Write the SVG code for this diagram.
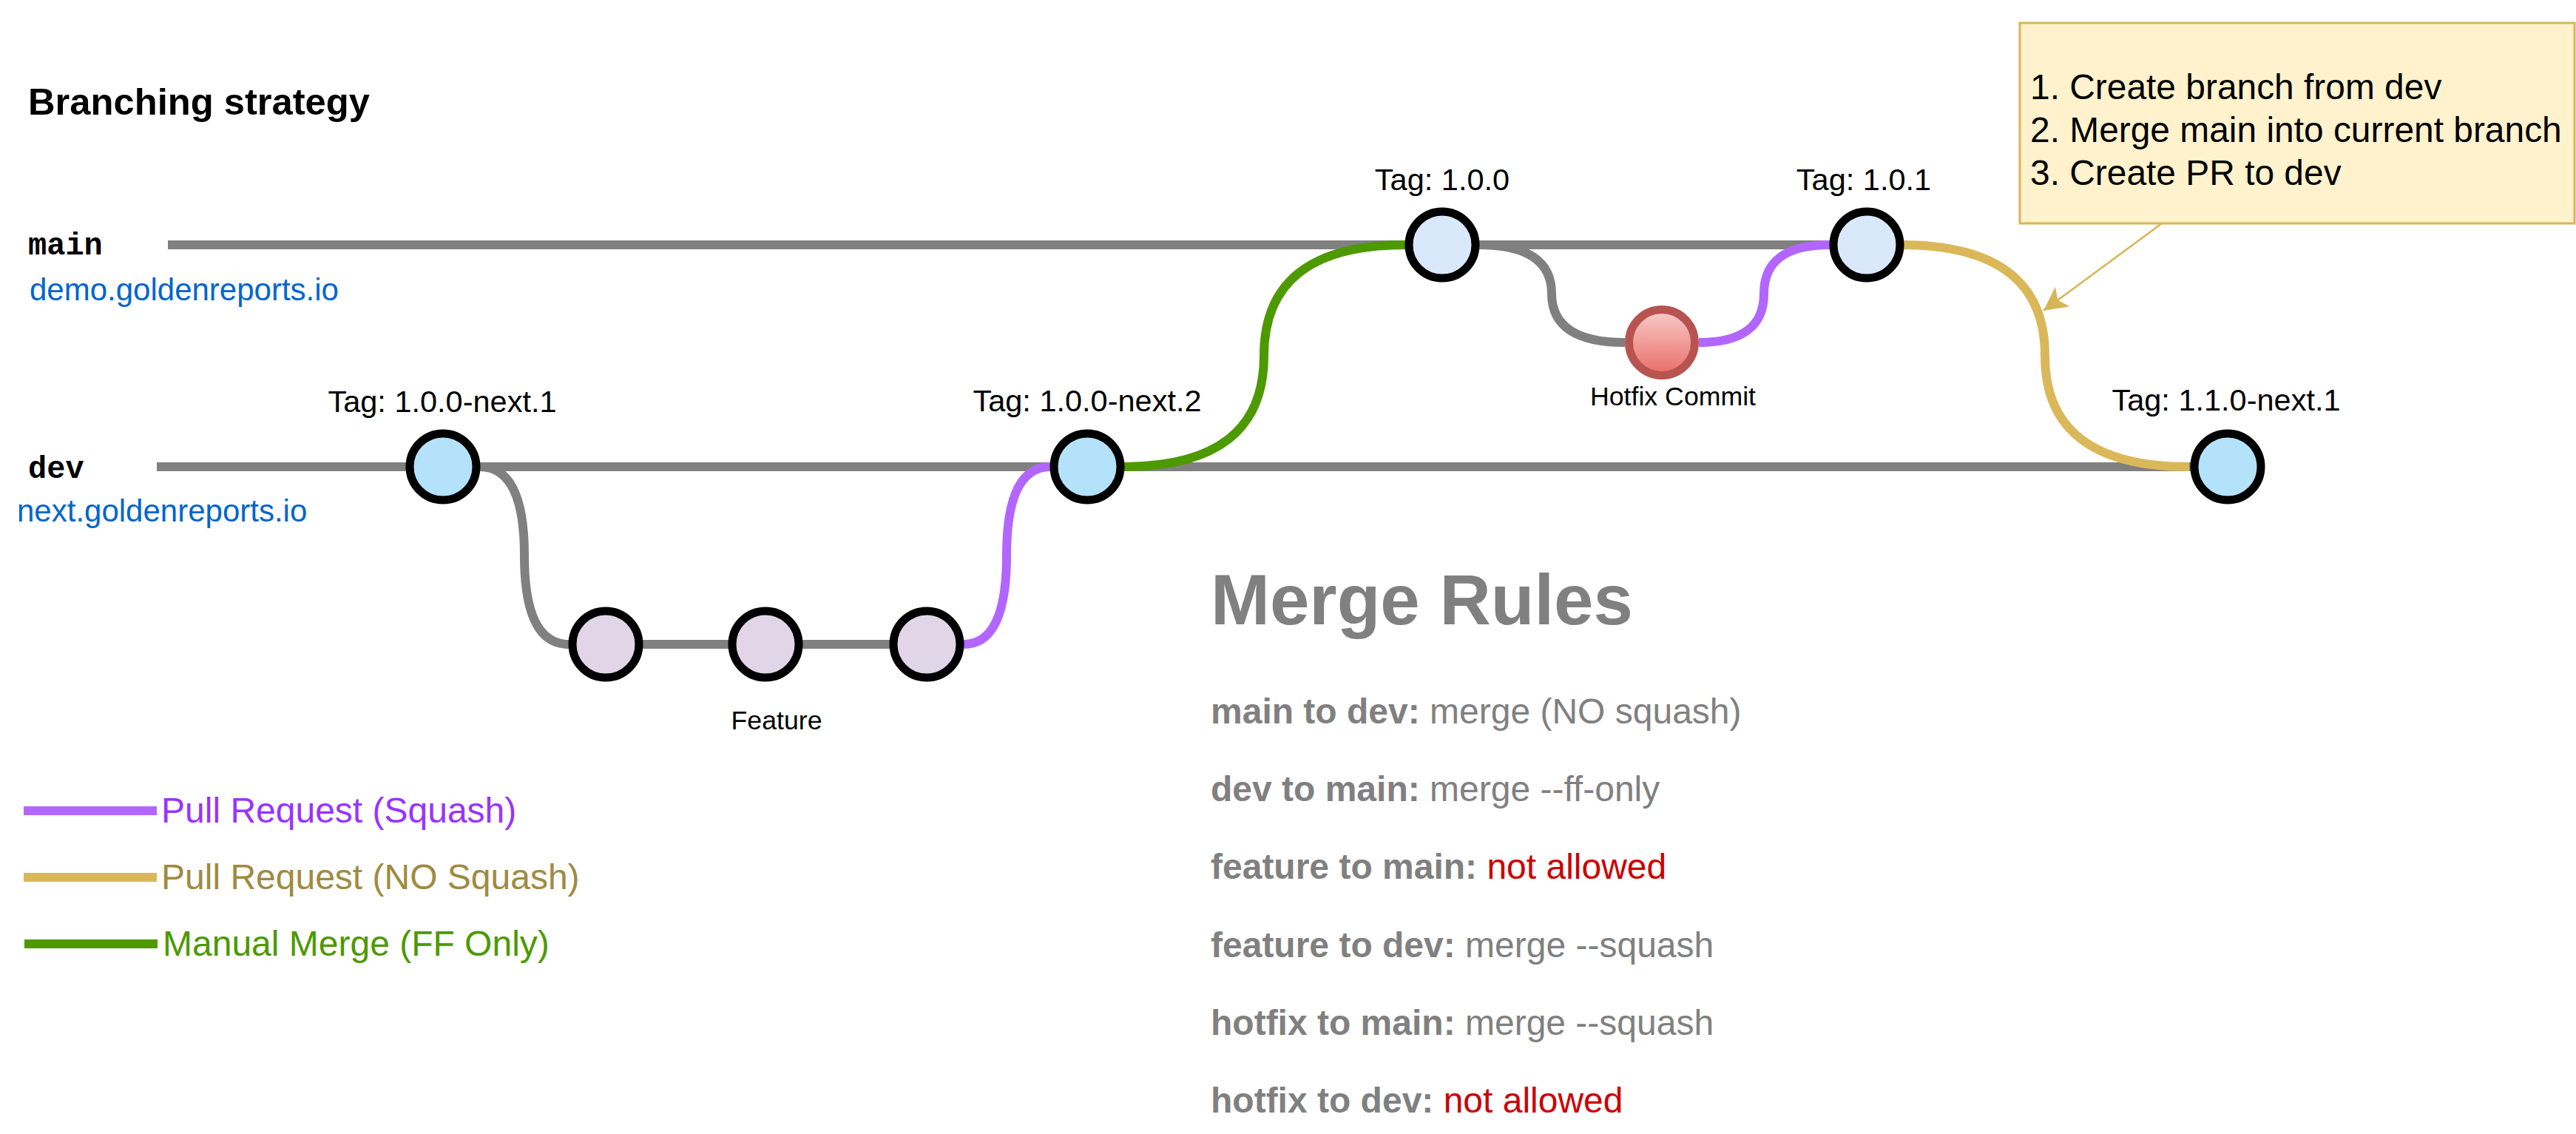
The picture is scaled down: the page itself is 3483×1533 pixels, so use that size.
<svg xmlns="http://www.w3.org/2000/svg" width="3483" height="1533" viewBox="0 0 3483 1533">
<defs>
<style>
.t{font-family:"Liberation Sans",Arial,sans-serif}
.mono{font-family:"Liberation Mono","Courier New",monospace;font-weight:bold;font-size:42px;fill:#000}
.edge{fill:none;stroke-width:12}
.gray{stroke:#808080}
.purple{stroke:#b266ff}
.gold{stroke:#dab85a}
.green{stroke:#4d9900}
.commit{stroke:#000;stroke-width:11}
.dev{fill:#b4e2fb}
.main{fill:#dae8fc}
.feat{fill:#e1d5e7}
.tag{font-size:41.5px;text-anchor:middle;fill:#000}
.lbl{font-size:35.7px;text-anchor:middle;fill:#000}
.url{font-size:42px;fill:#0066cc}
.rule{font-size:48px;fill:#808080}
.leg{font-size:48px}
.b{font-weight:bold}
.red{fill:#cc0000}
</style>
<linearGradient id="hotfixGrad" x1="0" y1="0" x2="0" y2="1">
<stop offset="0" stop-color="#f8cecc"/>
<stop offset="1" stop-color="#ea6b66"/>
</linearGradient>
<marker id="arrow" markerUnits="userSpaceOnUse" markerWidth="40" markerHeight="40" refX="32" refY="0" orient="auto" overflow="visible">
<path d="M0,-16.5 L32,0 L0,16.5 L8,0 Z" fill="#d6b656"/>
</marker>
</defs>
<rect width="3483" height="1533" fill="#ffffff"/>

<text id="title" class="t b" x="38" y="155" font-size="50.7" fill="#000">Branching strategy</text>

<g id="branch-labels">
<text class="mono" x="38" y="344">main</text>
<text class="t url" x="40" y="406">demo.goldenreports.io</text>
<text class="mono" x="38" y="646">dev</text>
<text class="t url" x="23" y="705">next.goldenreports.io</text>
</g>

<g id="connectors">
<path class="edge gray" d="M227,331 L2520,331"/>
<path class="edge gray" d="M212,631 L3010,631"/>
<path class="edge gray" d="M649,631 Q709,631 709,751 Q709,871 769,871"/>
<path class="edge gray" d="M819,871 L1253,871"/>
<path class="edge purple" d="M1303,871 Q1361,871 1361,751 Q1361,631 1420,631"/>
<path class="edge green" d="M1518,631 Q1709,631 1709,481 Q1709,331 1900,331"/>
<path class="edge gray" d="M2000,331 Q2098,331 2098,397 Q2098,463 2197,463"/>
<path class="edge purple" d="M2297,463 Q2385,463 2385,397 Q2385,331 2474,331"/>
<path class="edge gold" d="M2570,331 Q2765,331 2765,481 Q2765,631 2960,631"/>
<path d="M2923,302 L2763,420" fill="none" stroke="#d6b656" stroke-width="2.5" marker-end="url(#arrow)"/>
</g>

<g id="dev1">
<circle class="commit dev" cx="599" cy="631" r="45"/>
<text class="t tag" x="598" y="557">Tag: 1.0.0-next.1</text>
</g>
<g id="feature1"><circle class="commit feat" cx="819" cy="871" r="45"/></g>
<g id="feature2">
<circle class="commit feat" cx="1035" cy="871" r="45"/>
<text class="t lbl" x="1050" y="986">Feature</text>
</g>
<g id="feature3"><circle class="commit feat" cx="1253" cy="871" r="45"/></g>
<g id="dev2">
<circle class="commit dev" cx="1470" cy="631" r="45"/>
<text class="t tag" x="1470" y="556">Tag: 1.0.0-next.2</text>
</g>
<g id="main1">
<circle class="commit main" cx="1950" cy="331" r="45"/>
<text class="t tag" x="1950" y="257">Tag: 1.0.0</text>
</g>
<g id="hotfix">
<circle cx="2247" cy="463" r="44.5" fill="url(#hotfixGrad)" stroke="#b85450" stroke-width="11"/>
<text class="t lbl" x="2262" y="548">Hotfix Commit</text>
</g>
<g id="main2">
<circle class="commit main" cx="2524" cy="331" r="45"/>
<text class="t tag" x="2520" y="257">Tag: 1.0.1</text>
</g>
<g id="dev3">
<circle class="commit dev" cx="3012" cy="631" r="45"/>
<text class="t tag" x="3010" y="555">Tag: 1.1.0-next.1</text>
</g>

<g id="note">
<rect x="2731" y="31" width="750" height="271" fill="#fff2cc" stroke="#d6b656" stroke-width="3"/>
<text class="t" x="2745" y="134" font-size="47.9" fill="#000">1. Create branch from dev</text>
<text class="t" x="2745" y="192" font-size="47.9" fill="#000">2. Merge main into current branch</text>
<text class="t" x="2745" y="250" font-size="47.9" fill="#000">3. Create PR to dev</text>
</g>

<g id="legend">
<line x1="32" y1="1096" x2="212" y2="1096" class="edge purple"/>
<text class="t leg" x="218" y="1112" fill="#9933ff">Pull Request (Squash)</text>
<line x1="32" y1="1186" x2="212" y2="1186" class="edge gold"/>
<text class="t leg" x="218" y="1202" fill="#a08a40">Pull Request (NO Squash)</text>
<line x1="33" y1="1276" x2="213" y2="1276" class="edge green"/>
<text class="t leg" x="220" y="1292" fill="#4d9900">Manual Merge (FF Only)</text>
</g>

<g id="merge-rules">
<text class="t b" x="1637" y="844" font-size="96" fill="#808080">Merge Rules</text>
<text class="t rule" x="1637" y="978"><tspan class="b">main to dev:</tspan> merge (NO squash)</text>
<text class="t rule" x="1637" y="1083"><tspan class="b">dev to main:</tspan> merge --ff-only</text>
<text class="t rule" x="1637" y="1188"><tspan class="b">feature to main:</tspan> <tspan class="red">not allowed</tspan></text>
<text class="t rule" x="1637" y="1294"><tspan class="b">feature to dev:</tspan> merge --squash</text>
<text class="t rule" x="1637" y="1399"><tspan class="b">hotfix to main:</tspan> merge --squash</text>
<text class="t rule" x="1637" y="1504"><tspan class="b">hotfix to dev:</tspan> <tspan class="red">not allowed</tspan></text>
</g>
</svg>
